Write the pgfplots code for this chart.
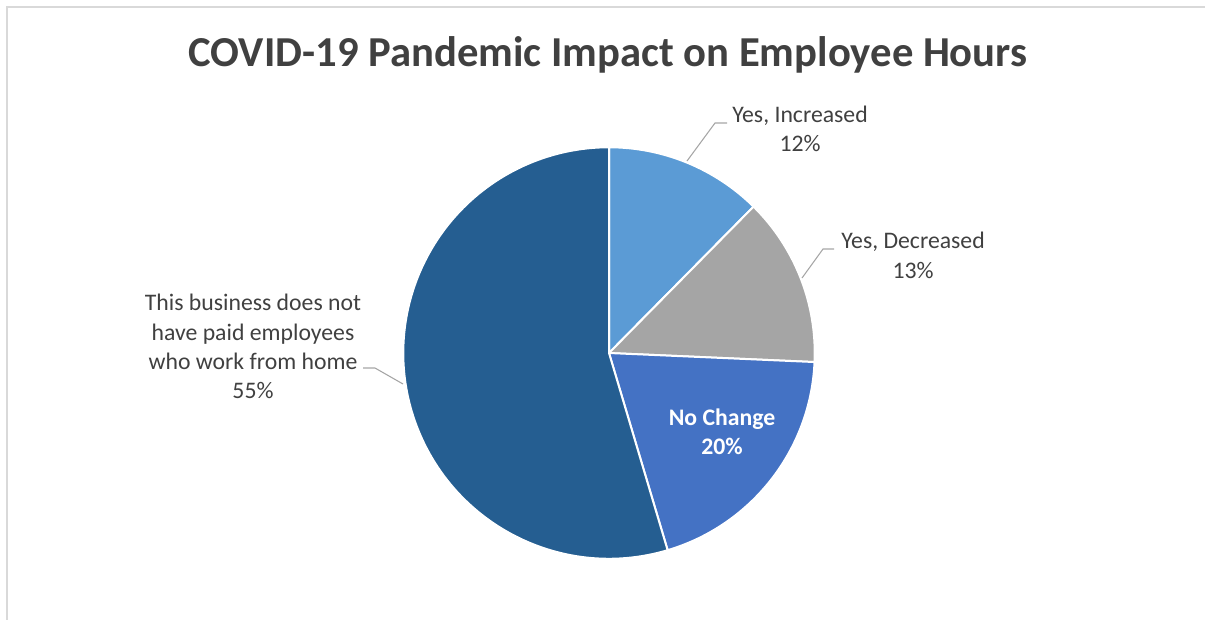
\documentclass[border=0pt]{standalone}
\usepackage{pgfplots}
\pgfplotsset{compat=1.18}
\usepackage{fontspec}
\setmainfont{Carlito}
\definecolor{cInc}{HTML}{5B9BD5}
\definecolor{cDec}{HTML}{A5A5A5}
\definecolor{cNo}{HTML}{4472C4}
\definecolor{cNone}{HTML}{255E91}
\definecolor{txt}{HTML}{404040}
\definecolor{lead}{HTML}{A6A6A6}
\definecolor{frame}{HTML}{D9D9D9}
% shares (percent), clockwise from 12 o'clock
\def\vInc{12.4}
\def\vDec{13.3}
\def\vNo{19.7}
\def\vNone{54.6}
\pgfmathsetmacro\aA{90}
\pgfmathsetmacro\aB{\aA-3.6*\vInc}
\pgfmathsetmacro\aC{\aB-3.6*\vDec}
\pgfmathsetmacro\aD{\aC-3.6*\vNo}
\pgfmathsetmacro\aE{\aD-3.6*\vNone}
\def\R{154.3pt}
\begin{document}
\begin{tikzpicture}
\useasboundingbox (0,0) rectangle (903.75pt,465pt);
\begin{axis}[x=0.75pt,y=0.75pt,xmin=0,xmax=1205,ymin=0,ymax=620,y dir=reverse,
  hide axis,scale only axis,clip=false,at={(0,0)},anchor=south west]
\draw[frame,line width=1pt] (axis cs:7,620) -- (axis cs:7,7) -- (axis cs:1205,7);
% slices
\filldraw[fill=cInc,draw=white,line width=1.5pt] (axis cs:609,353) -- ++(\aA:\R) arc[start angle=\aA,end angle=\aB,radius=\R] -- cycle;
\filldraw[fill=cDec,draw=white,line width=1.5pt] (axis cs:609,353) -- ++(\aB:\R) arc[start angle=\aB,end angle=\aC,radius=\R] -- cycle;
\filldraw[fill=cNo,draw=white,line width=1.5pt] (axis cs:609,353) -- ++(\aC:\R) arc[start angle=\aC,end angle=\aD,radius=\R] -- cycle;
\filldraw[fill=cNone,draw=white,line width=1.5pt] (axis cs:609,353) -- ++(\aD:\R) arc[start angle=\aD,end angle=\aE,radius=\R] -- cycle;
% title
\node[anchor=base,text=txt,font=\fontsize{32}{38}\selectfont\bfseries] at (axis cs:608,67) {COVID-19 Pandemic Impact on Employee Hours};
% leader lines
\draw[lead,line width=0.8pt] (axis cs:727,123) -- (axis cs:715,123) -- (axis cs:687,161);
\draw[lead,line width=0.8pt] (axis cs:834,249) -- (axis cs:823,249) -- (axis cs:802,278);
\draw[lead,line width=0.8pt] (axis cs:363,368) -- (axis cs:375,368) -- (axis cs:403,384);
% labels
\begin{scope}[every node/.style={anchor=base,text=txt,font=\fontsize{17.8}{21}\selectfont,inner sep=0pt}]
\node at (axis cs:800,123) {Yes, Increased};
\node at (axis cs:800,152) {12\%};
\node at (axis cs:913,248) {Yes, Decreased};
\node at (axis cs:913,278) {13\%};
\node at (axis cs:253,310) {This business does not};
\node at (axis cs:253,340) {have paid employees};
\node at (axis cs:253,369) {who work from home};
\node at (axis cs:253,398) {55\%};
\end{scope}
\node[anchor=base,text=white,font=\fontsize{17.8}{21}\selectfont\bfseries,inner sep=0pt] at (axis cs:722,425) {No Change};
\node[anchor=base,text=white,font=\fontsize{17.8}{21}\selectfont\bfseries,inner sep=0pt] at (axis cs:722,454) {20\%};
\end{axis}
\end{tikzpicture}
\end{document}
